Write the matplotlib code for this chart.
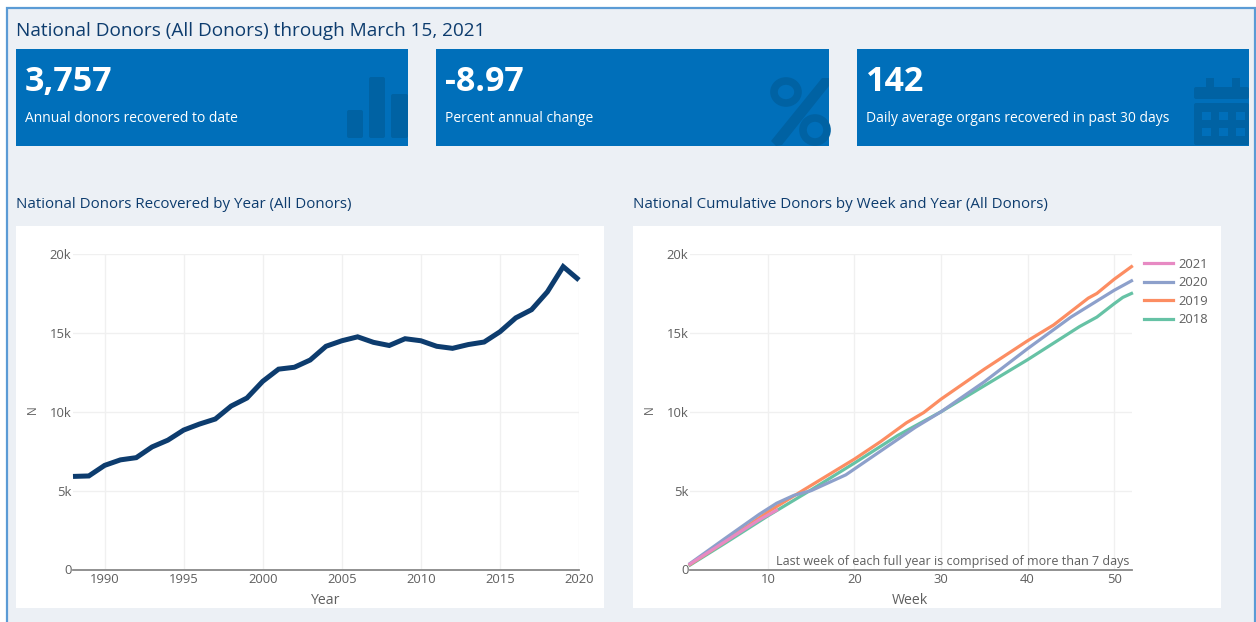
import matplotlib
matplotlib.use("Agg")
import matplotlib.pyplot as plt
from matplotlib.patches import Rectangle, FancyBboxPatch, Ellipse, Polygon
from matplotlib.ticker import FuncFormatter

W, H = 1256, 622
PAGE = "#ecf0f5"; CARD = "#006fba"; ICON = "#0062a3"; NAVY = "#0d3c6e"; GREY = "#5f5f5f"
FONT = "Open Sans"; PLOT_FONT = "Open Sans"

page_title = "National Donors (All Donors) through March 15, 2021"
card_values = ["3,757", "-8.97", "142"]
card_labels = ["Annual donors recovered to date", "Percent annual change",
               "Daily average organs recovered in past 30 days"]
left_title = "National Donors Recovered by Year (All Donors)"
right_title = "National Cumulative Donors by Week and Year (All Donors)"
note = "Last week of each full year is comprised of more than 7 days"

years = list(range(1988, 2021))
donors = [5900, 5930, 6600, 6950, 7090, 7770, 8200, 8840, 9220, 9540, 10360,
          10870, 11930, 12700, 12820, 13280, 14150, 14500, 14750, 14400, 14200,
          14630, 14500, 14150, 14020, 14260, 14420, 15070, 15950, 16470, 17600,
          19200, 18350]

w2018 = [1, 5, 10, 15, 20, 25, 30, 35, 40, 44, 46, 48, 50, 51, 52]
v2018 = [280, 1650, 3400, 5050, 6750, 8500, 10000, 11650, 13300, 14700, 15400, 16000, 16850, 17250, 17500]
w2019 = [1, 5, 10, 14, 20, 23, 26, 28, 30, 35, 40, 43, 47, 48, 50, 52]
v2019 = [320, 1750, 3650, 5000, 7000, 8100, 9300, 9950, 10800, 12700, 14500, 15500, 17200, 17500, 18400, 19200]
w2020 = [1, 5, 9, 11, 13, 15, 19, 23, 27, 30, 35, 40, 45, 50, 52]
v2020 = [380, 1950, 3500, 4200, 4700, 5000, 6000, 7500, 9000, 10000, 11900, 14000, 16000, 17700, 18300]
w2021 = [1, 5, 9, 11]
v2021 = [350, 1750, 3150, 3757]
year_series = [("2021", w2021, v2021, "#e78ac3"), ("2020", w2020, v2020, "#8da0cb"),
               ("2019", w2019, v2019, "#fc8d62"), ("2018", w2018, v2018, "#66c2a5")]
draw_order = [3, 2, 1, 0]

fig = plt.figure(figsize=(W / 100, H / 100), dpi=100, facecolor="white")
bg = fig.add_axes([0, 0, 1, 1]); bg.set_xlim(0, W); bg.set_ylim(H, 0); bg.axis("off")
bg.add_patch(Rectangle((7, 8), 1247.5, 620, fc=PAGE, ec="#5b9bd5", lw=1.6))
bg.text(16, 31.5, page_title, fontsize=13.7, color=NAVY, family=FONT, va="center")

cards = [(16, 392), (436, 393), (857, 392)]
for (x, w), val, lab in zip(cards, card_values, card_labels):
    bg.add_patch(Rectangle((x, 49), w, 97, fc=CARD, ec="none"))
    bg.text(x + 9, 82, val, fontsize=24.5, fontweight="bold", color="white", family=FONT, va="center")
    bg.text(x + 9, 118.5, lab, fontsize=10, color="white", family=FONT, va="center")

# card icons
for x, top, right in [(347, 110, 363), (369, 77, 385), (391, 94, 408)]:
    bg.add_patch(FancyBboxPatch((x + 2, top + 2), right - x - 4, 138 - top - 4,
                                boxstyle="round,pad=2", fc=ICON, ec="none"))
bg.add_patch(Polygon([(771, 141), (776, 146), (782, 145), (829, 86), (829, 78), (822, 78)], fc=ICON, ec="none"))
bg.add_patch(Ellipse((786, 92), 24, 22, fc="none", ec=ICON, lw=5.5))
bg.add_patch(Ellipse((815, 130), 24, 24, fc="none", ec=ICON, lw=5.5))
bg.add_patch(FancyBboxPatch((1196, 89), 51, 8, boxstyle="round,pad=2", fc=ICON, ec="none"))
bg.add_patch(FancyBboxPatch((1196, 105), 51, 38, boxstyle="round,pad=2", fc=ICON, ec="none"))
for x in (1206, 1232):
    bg.add_patch(Rectangle((x, 78), 8, 10, fc=ICON, ec="none"))
for x in (1202, 1219, 1236):
    for y in (112, 128):
        bg.add_patch(Rectangle((x, y), 9, 8, fc=CARD, ec="none"))

bg.text(16, 204.5, left_title, fontsize=10.9, color=NAVY, family=FONT, va="center")
bg.text(633, 204.5, right_title, fontsize=10.9, color=NAVY, family=FONT, va="center")
bg.add_patch(Rectangle((16, 226), 588, 382, fc="white", ec="none"))
bg.add_patch(Rectangle((633, 226), 588, 382, fc="white", ec="none"))


def make_axes(x0, x1, xlim, xticks, xlabel, xlabel_px):
    top, bottom = 254.0, 569.5
    ax = fig.add_axes([x0 / W, 1 - bottom / H, (x1 - x0) / W, (bottom - top) / H])
    ax.set_xlim(*xlim); ax.set_ylim(0, 20000)
    ax.patch.set_alpha(0)
    ax.set_xticks(xticks); ax.set_yticks([0, 5000, 10000, 15000, 20000])
    ax.yaxis.set_major_formatter(FuncFormatter(lambda v, _: "0" if v == 0 else f"{int(v / 1000)}k"))
    ax.grid(True, color="#f0f0f0", lw=1); ax.set_axisbelow(True)
    for s in ("top", "right", "left"):
        ax.spines[s].set_visible(False)
    ax.spines["bottom"].set_color("#888888"); ax.spines["bottom"].set_linewidth(1.3)
    ax.tick_params(axis="x", length=0, pad=2.5, labelsize=9.4, labelcolor=GREY)
    ax.tick_params(axis="y", length=0, pad=1.2, labelsize=9.4, labelcolor=GREY)
    for t in ax.get_xticklabels() + ax.get_yticklabels():
        t.set_family(PLOT_FONT)
    bg.text(xlabel_px, 600.5, xlabel, fontsize=10.2, color=GREY, family=PLOT_FONT, ha="center", va="center")
    bg.text(x0 - 41, 410, "N", fontsize=8.5, color=GREY, family=PLOT_FONT, rotation=90, ha="center", va="center")
    return ax


ax1 = make_axes(73, 579, (1988, 2020), [1990, 1995, 2000, 2005, 2010, 2015, 2020], "Year", 326)
ax1.plot(years, donors, color=NAVY, lw=3.6, solid_joinstyle="miter", solid_capstyle="butt", clip_on=False)

ax2 = make_axes(690, 1131.5, (1, 52), [10, 20, 30, 40, 50], "Week", 910)
for i in draw_order:
    name, wk, val, col = year_series[i]
    ax2.plot(wk, val, color=col, lw=2.3, solid_joinstyle="round", clip_on=False, label=name)
ax2.text(1129, 561, note, transform=bg.transData, fontsize=9.0, color=GREY, family=PLOT_FONT,
         ha="right", va="center", zorder=5)

handles, labels = ax2.get_legend_handles_labels()
order = sorted(range(len(labels)), key=lambda k: labels[k], reverse=True)
leg = fig.legend([handles[k] for k in order], [labels[k] for k in order],
                 loc="upper left", bbox_to_anchor=(1144 / W, 1 - 258 / H), frameon=False,
                 prop={"family": PLOT_FONT, "size": 9.4}, labelcolor=GREY,
                 handlelength=2.2, labelspacing=0.42, handletextpad=0.4, borderpad=0, borderaxespad=0)

fig.savefig("out.png", dpi=100, facecolor="white")
